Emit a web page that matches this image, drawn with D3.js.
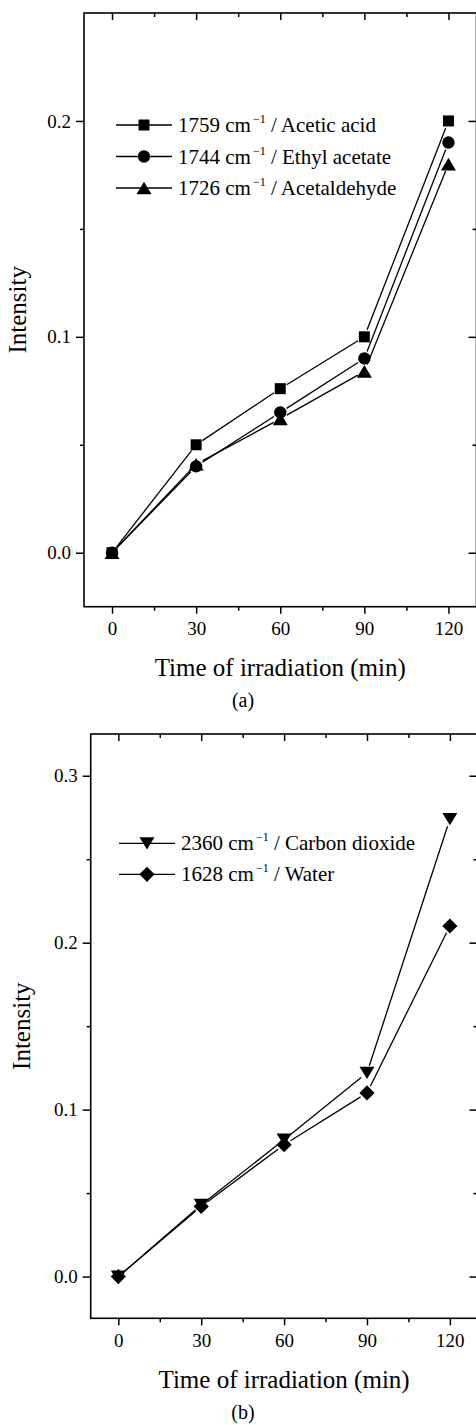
<!DOCTYPE html>
<html>
<head>
<meta charset="utf-8">
<script src="https://cdn.jsdelivr.net/npm/d3@7"></script>
<style>
  html, body { margin: 0; padding: 0; background: #fff; }
  svg { display: block; }
  text { font-family: "Liberation Serif", "Times New Roman", serif; fill: #000; }
</style>
</head>
<body>
<svg id="chart" width="476" height="1425"></svg>
<script>
// ---------- Data ----------
const times = [0, 30, 60, 90, 120];

// Panel (a)
const aceticAcid   = [0, 0.050, 0.076, 0.100, 0.200];
const ethylAcetate = [0, 0.040, 0.065, 0.090, 0.190];
const acetaldehyde = [0, 0.041, 0.062, 0.084, 0.180];

// Panel (b)
const carbonDioxide = [0, 0.043, 0.082, 0.122, 0.274];
const water         = [0, 0.042, 0.079, 0.110, 0.210];

const xTicks = [0, 30, 60, 90, 120];
const xMinorTicks = [15, 45, 75, 105];
const yTicksA = [0, 0.1, 0.2];
const yMinorTicksA = [0.05, 0.15];
const yTicksB = [0, 0.1, 0.2, 0.3];
const yMinorTicksB = [0.05, 0.15, 0.25];

const seriesA = [
  { wn: "1759", name: "Acetic acid",   values: aceticAcid,   marker: "square" },
  { wn: "1744", name: "Ethyl acetate", values: ethylAcetate, marker: "circle" },
  { wn: "1726", name: "Acetaldehyde",  values: acetaldehyde, marker: "triangleUp" }
];
const seriesB = [
  { wn: "2360", name: "Carbon dioxide", values: carbonDioxide, marker: "triangleDown" },
  { wn: "1628", name: "Water",          values: water,         marker: "diamond" }
];

// ---------- Marker shapes (custom d3.symbol types) ----------
const markerTypes = {
  square: { draw(ctx) { const s = 5.5; ctx.moveTo(-s, -s); ctx.lineTo(s, -s); ctx.lineTo(s, s); ctx.lineTo(-s, s); ctx.closePath(); } },
  circle: { draw(ctx) { const r = 6.2; ctx.moveTo(r, 0); ctx.arc(0, 0, r, 0, 2 * Math.PI); ctx.closePath(); } },
  triangleUp: { draw(ctx) { const w = 7.5, h = 6.3; ctx.moveTo(0, -h); ctx.lineTo(w, h); ctx.lineTo(-w, h); ctx.closePath(); } },
  triangleDown: { draw(ctx) { const w = 7.5, h = 6.1; ctx.moveTo(0, h); ctx.lineTo(w, -h); ctx.lineTo(-w, -h); ctx.closePath(); } },
  diamond: { draw(ctx) { const r = 7.6; ctx.moveTo(0, -r); ctx.lineTo(r, 0); ctx.lineTo(0, r); ctx.lineTo(-r, 0); ctx.closePath(); } }
};
const symbolPath = name => d3.symbol().type(markerTypes[name])();

const svg = d3.select("#chart");

function drawPanel(cfg) {
  const x = d3.scaleLinear().domain([-10, 130]).range([cfg.left, cfg.right]);
  const y = d3.scaleLinear().domain(cfg.yDomain).range([cfg.bottom, cfg.top]);
  const g = svg.append("g");

  const styleAxis = sel => {
    sel.select(".domain").remove();
    sel.selectAll("line").attr("stroke", "#000").attr("stroke-width", 1.5);
    sel.selectAll("text").style("font-family", '"Liberation Serif", serif').style("font-size", "19px").attr("fill", "#000");
  };

  // bottom axis (outward)
  g.append("g").attr("transform", `translate(0,${cfg.bottom})`)
    .call(d3.axisBottom(x).tickValues(xTicks).tickSize(7).tickPadding(8).tickFormat(d3.format("d")))
    .call(styleAxis);
  g.append("g").attr("transform", `translate(0,${cfg.bottom})`)
    .call(d3.axisBottom(x).tickValues(xMinorTicks).tickSize(4).tickFormat(""))
    .call(styleAxis);
  // top axis (inward)
  g.append("g").attr("transform", `translate(0,${cfg.top})`)
    .call(d3.axisTop(x).tickValues(xTicks).tickSize(-7).tickFormat(""))
    .call(styleAxis);
  g.append("g").attr("transform", `translate(0,${cfg.top})`)
    .call(d3.axisTop(x).tickValues(xMinorTicks).tickSize(-4).tickFormat(""))
    .call(styleAxis);
  // left axis (outward)
  g.append("g").attr("transform", `translate(${cfg.left},0)`)
    .call(d3.axisLeft(y).tickValues(cfg.yTicks).tickSize(8).tickPadding(5).tickFormat(d3.format(".1f")))
    .call(styleAxis);
  g.append("g").attr("transform", `translate(${cfg.left},0)`)
    .call(d3.axisLeft(y).tickValues(cfg.yMinor).tickSize(4).tickFormat(""))
    .call(styleAxis);
  // right axis (inward)
  g.append("g").attr("transform", `translate(${cfg.right},0)`)
    .call(d3.axisRight(y).tickValues(cfg.yTicks).tickSize(-8).tickFormat(""))
    .call(styleAxis);
  g.append("g").attr("transform", `translate(${cfg.right},0)`)
    .call(d3.axisRight(y).tickValues(cfg.yMinor).tickSize(-4).tickFormat(""))
    .call(styleAxis);

  // frame
  g.append("rect")
    .attr("x", cfg.left).attr("y", cfg.top)
    .attr("width", cfg.right - cfg.left).attr("height", cfg.bottom - cfg.top)
    .attr("fill", "none").attr("stroke", "#000").attr("stroke-width", 1.6);

  // series: segments with gaps at markers
  const gap = 7.5;
  cfg.series.forEach(s => {
    const pts = times.map((t, i) => [x(t), y(s.values[i])]);
    const segs = d3.pairs(pts).map(([p, q]) => {
      const dx = q[0] - p[0], dy = q[1] - p[1];
      const len = Math.hypot(dx, dy);
      const ux = dx / len, uy = dy / len;
      return [[p[0] + ux * gap, p[1] + uy * gap], [q[0] - ux * gap, q[1] - uy * gap]];
    });
    g.append("g").selectAll("path").data(segs).join("path")
      .attr("d", d => d3.line()(d))
      .attr("fill", "none").attr("stroke", "#000").attr("stroke-width", 1.3);
    g.append("g").selectAll("path").data(pts).join("path")
      .attr("transform", d => `translate(${d[0]},${d[1]})`)
      .attr("d", symbolPath(s.marker))
      .attr("fill", "#000");
  });

  // legend
  const lg = g.append("g");
  cfg.series.forEach((s, i) => {
    const ly = cfg.legend.y + i * cfg.legend.dy;
    lg.append("line")
      .attr("x1", cfg.legend.x1).attr("x2", cfg.legend.x2)
      .attr("y1", ly).attr("y2", ly)
      .attr("stroke", "#000").attr("stroke-width", 1.3);
    lg.append("path")
      .attr("transform", `translate(${(cfg.legend.x1 + cfg.legend.x2) / 2},${ly})`)
      .attr("d", symbolPath(s.marker)).attr("fill", "#000");
    const t = lg.append("text")
      .attr("x", cfg.legend.tx).attr("y", ly + 7)
      .style("font-size", "21px");
    t.append("tspan").text(s.wn + " cm");
    t.append("tspan").attr("dy", -9).attr("dx", 2).style("font-size", "12px").text("\u22121");
    t.append("tspan").attr("dy", 9).text(" / " + s.name);
  });

  // axis titles
  g.append("text")
    .attr("x", (x(0) + x(120)) / 2 ).attr("y", cfg.xTitleY)
    .attr("text-anchor", "middle").style("font-size", "25px")
    .text("Time of irradiation (min)");
  g.append("text")
    .attr("transform", `translate(${cfg.yTitleX},${(cfg.top + cfg.bottom) / 2}) rotate(-90)`)
    .attr("text-anchor", "middle").style("font-size", "25px")
    .text("Intensity");
  g.append("text")
    .attr("x", 243).attr("y", cfg.capY)
    .attr("text-anchor", "middle").style("font-size", "20px")
    .text(cfg.caption);
}

drawPanel({
  left: 84, right: 476.5, top: 13, bottom: 606.7,
  yDomain: [-0.025, 0.25], yTicks: yTicksA, yMinor: yMinorTicksA,
  series: seriesA,
  legend: { x1: 116, x2: 172, tx: 178, y: 125, dy: 31.5 },
  xTitleY: 676, yTitleX: 26, capY: 707, caption: "(a)"
});

drawPanel({
  left: 90.7, right: 477.5, top: 734, bottom: 1318.3,
  yDomain: [-0.025, 0.325], yTicks: yTicksB, yMinor: yMinorTicksB,
  series: seriesB,
  legend: { x1: 119, x2: 175, tx: 181, y: 843.3, dy: 31 },
  xTitleY: 1388, yTitleX: 30, capY: 1419, caption: "(b)"
});
</script>
</body>
</html>
